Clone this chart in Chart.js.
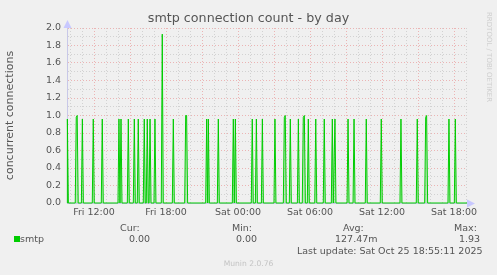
<!DOCTYPE html>
<html>
<head>
<meta charset="utf-8">
<title>smtp connection count - by day</title>
<script src="https://cdn.jsdelivr.net/npm/chart.js@4.4.1/dist/chart.umd.min.js"></script>
<style>
  body { margin: 0; background: #f0f0f0; }
  #wrap { position: relative; width: 497px; height: 275px; background: #f0f0f0;
          font-family: "DejaVu Sans", sans-serif; color: #555; }
  #c { position: absolute; left: 0; top: 0; }
  .t { position: absolute; white-space: nowrap; line-height: 1; font-size: 9.5px; }
</style>
</head>
<body>
<div id="wrap">
  <canvas id="c" width="497" height="275"></canvas>
  <div class="t" style="left:0; width:497px; text-align:center; top:12px; font-size:12.7px;">smtp connection count - by day</div>
  <div class="t" style="left:483px; top:12px; font-size:7px; color:#cfcfcf; transform-origin:0 0; transform:rotate(90deg) translate(0,-9px);">RRDTOOL / TOBI OETIKER</div>

  <div class="t" style="left:14px; top:236px; width:6px; height:6px; background:#00cc00;"></div>
  <div class="t" style="left:20px; top:234px;">smtp</div>
  <div class="t" style="left:120px; top:223px;">Cur:</div>
  <div class="t" style="left:129px; top:234px;">0.00</div>
  <div class="t" style="left:232px; top:223px;">Min:</div>
  <div class="t" style="left:236px; top:234px;">0.00</div>
  <div class="t" style="left:343px; top:223px;">Avg:</div>
  <div class="t" style="left:335px; top:234px;">127.47m</div>
  <div class="t" style="left:454px; top:223px;">Max:</div>
  <div class="t" style="left:459px; top:234px;">1.93</div>
  <div class="t" style="left:297px; top:246px;">Last update: Sat Oct 25 18:55:11 2025</div>
  <div class="t" style="left:0; width:497px; text-align:center; top:260px; font-size:7.6px; color:#c4c4c4;">Munin 2.0.76</div>
</div>
<script>
// hours counted from Fri 00:00 (24 = Sat 00:00)
const xMin = 9.75;
const xMax = 43.0833;
const sampleStep = 1 / 12; // 5 minutes

const spikeTimes = [
  9.78, 10.52, 10.6, 11.03, 11.94, 12.69, 14.08, 14.25, 14.86, 15.36,
  15.69, 16.19, 16.44, 16.67, 17.08, 17.69, 18.61, 19.64, 19.72, 21.39,
  21.53, 22.36, 23.61, 23.78, 25.19, 25.53, 26.03, 27.08, 27.86, 27.94,
  28.36, 29.03, 29.44, 29.53, 29.86, 30.48, 31.19, 31.86, 32.08, 33.17,
  33.67, 34.69, 35.94, 37.58, 38.94, 39.64, 39.72, 41.58, 42.11
];
const spikeValues = [
  0.96, 0.98, 1.0, 0.96, 0.96, 0.96, 0.96, 0.96, 0.96, 0.96,
  0.96, 0.96, 0.96, 0.96, 0.96, 1.93, 0.96, 1.0, 1.0, 0.96,
  0.96, 0.96, 0.96, 0.96, 0.96, 0.96, 0.96, 0.96, 0.98, 1.0,
  0.96, 0.96, 0.98, 1.0, 0.96, 0.96, 0.96, 0.96, 0.96, 0.96,
  0.96, 0.96, 0.96, 0.96, 0.96, 0.98, 1.0, 0.96, 0.96
];

const xLabelHours = [12, 18, 24, 30, 36, 42];
const yMax = 2.0;

// build the series: zero baseline with the sampled spikes
const points = [{ x: xMin, y: 0 }];
spikeTimes.forEach((t, i) => {
  const last = points[points.length - 1];
  if (last.x < t - sampleStep * 1.5) points.push({ x: t - sampleStep, y: 0 });
  points.push({ x: t, y: spikeValues[i] });
  const next = spikeTimes[i + 1];
  if (next === undefined || next > t + sampleStep * 1.5) points.push({ x: t + sampleStep, y: 0 });
});
points.push({ x: xMax, y: 0 });

const hourLabel = (h) => {
  const day = h < 24 ? "Fri" : "Sat";
  const hh = String(h % 24).padStart(2, "0");
  return `${day} ${hh}:00`;
};

const axisArrows = {
  id: "axisArrows",
  afterDraw(chart) {
    const { ctx, chartArea: a } = chart;
    ctx.save();
    ctx.fillStyle = "#c8c8ff";
    ctx.beginPath();
    ctx.moveTo(a.left - 3.5, a.top);
    ctx.lineTo(a.left + 4.5, a.top);
    ctx.lineTo(a.left + 0.5, a.top - 8);
    ctx.closePath();
    ctx.fill();
    ctx.beginPath();
    ctx.moveTo(a.right, a.bottom - 3.5);
    ctx.lineTo(a.right, a.bottom + 4.5);
    ctx.lineTo(a.right + 8, a.bottom + 0.5);
    ctx.closePath();
    ctx.fill();
    ctx.restore();
  },
};

Chart.defaults.font.family = "'DejaVu Sans', sans-serif";
Chart.defaults.font.size = 9.5;
Chart.defaults.color = "#555";

new Chart(document.getElementById("c").getContext("2d"), {
  type: "line",
  data: {
    datasets: [{
      label: "smtp",
      data: points,
      borderColor: "#00cc00",
      backgroundColor: "rgba(0, 204, 0, 0.25)",
      borderWidth: 1,
      pointRadius: 0,
      tension: 0,
      fill: "origin",
      clip: 3,
    }],
  },
  options: {
    responsive: false,
    devicePixelRatio: 1,
    animation: false,
    events: [],
    layout: { padding: { top: 28, right: 30, left: 0, bottom: 0 } },
    plugins: {
      legend: { display: false },
      tooltip: { enabled: false },
    },
    scales: {
      x: {
        type: "linear",
        min: xMin,
        max: xMax,
        afterFit: (s) => { s.height = 72; },
        afterBuildTicks: (s) => {
          const ticks = [];
          for (let h = 10; h <= 43; h++) ticks.push({ value: h });
          s.ticks = ticks;
        },
        ticks: {
          autoSkip: false,
          maxRotation: 0,
          padding: 4,
          callback: (v) => (xLabelHours.includes(v) ? hourLabel(v) : ""),
        },
        grid: {
          drawTicks: false,
          color: (c) => (c.tick && c.tick.value % 3 === 0 ? "#ebb4b4" : "#d2d2d2"),
        },
        border: { color: "#c8c8e8", dash: [1, 2] },
      },
      y: {
        min: 0,
        max: yMax,
        afterFit: (s) => { s.width = 67; },
        afterBuildTicks: (s) => {
          const ticks = [];
          for (let i = 0; i <= 20; i++) ticks.push({ value: i / 10 });
          s.ticks = ticks;
        },
        ticks: {
          autoSkip: false,
          padding: 6,
          callback: (v) => (Math.round(v * 10) % 2 === 0 ? v.toFixed(1) : ""),
        },
        grid: {
          drawTicks: false,
          color: (c) => (c.tick && Math.round(c.tick.value * 10) % 2 === 0 ? "#ebb4b4" : "#d2d2d2"),
        },
        border: { color: "#c8c8e8", dash: [1, 2] },
        title: {
          display: true,
          text: "concurrent connections",
          font: { size: 11 },
          padding: { top: 4, bottom: 0 },
        },
      },
    },
  },
  plugins: [axisArrows],
});
</script>
</body>
</html>
